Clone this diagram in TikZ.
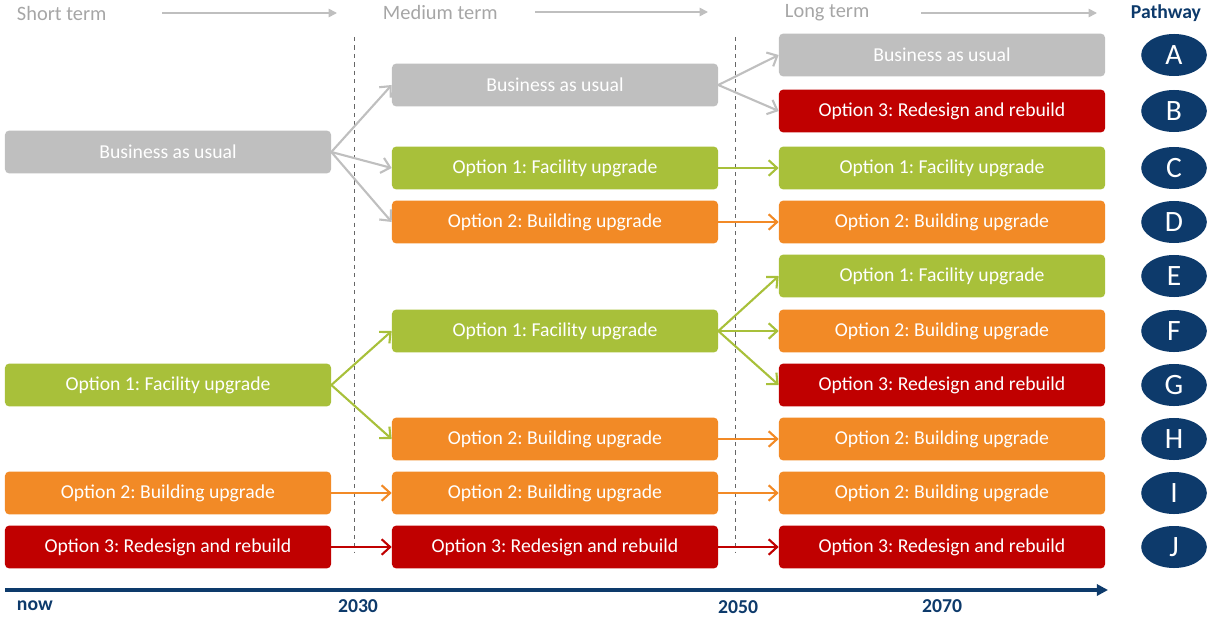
\documentclass[tikz,border=0pt]{standalone}
\usepackage{fontspec}
\setmainfont{Carlito}
\usetikzlibrary{arrows.meta,shapes.geometric,positioning}
\definecolor{baugray}{HTML}{BFBFBF}
\definecolor{optone}{HTML}{A8C03A}
\definecolor{opttwo}{HTML}{F28A26}
\definecolor{optthree}{HTML}{C00000}
\definecolor{navy}{HTML}{0D3A6B}
\definecolor{headgray}{HTML}{A6A6A6}
\frenchspacing

\begin{document}
\begin{tikzpicture}
          [x=0.025cm,y=-0.025cm,
           box/.style={rectangle,rounded corners=3pt,inner sep=0pt,
             minimum width=8.15cm,minimum height=1.07cm,text=white,
             font=\fontsize{14}{16}\selectfont},
           bau/.style={box,fill=baugray},
           one/.style={box,fill=optone},
           two/.style={box,fill=opttwo},
           three/.style={box,fill=optthree},
           path/.style={ellipse,fill=navy,text=white,inner sep=0pt,
             minimum width=1.64cm,minimum height=1.05cm,
             font=\fontsize{21}{23}\selectfont},
           head/.style={anchor=west,text=headgray,font=\fontsize{14.5}{16}\selectfont},
           year/.style={text=navy,font=\fontsize{14}{16}\selectfont\bfseries},
           link/.style={line width=1.5pt,-{Straight Barb[length=6pt,width=11pt]}}]
          \useasboundingbox (0,0) rectangle (1207,617);

          % header
          \node[head] (short) at (12,13) {Short term};
          \node[head] (medium) at (378,12) {Medium term};
          \node[head] (long) at (780,13) {Long term};
          \node[head,text=navy,font=\fontsize{14}{16}\selectfont\bfseries] (pathway) at (1126,13) {Pathway};
          \coordinate (h1s) at (162,13);  \coordinate (h1e) at (337,13);
          \coordinate (h2s) at (535,12);  \coordinate (h2e) at (708,12);
          \coordinate (h3s) at (921,13);  \coordinate (h3e) at (1097,13);
          \foreach \from/\to in {h1s/h1e,h2s/h2e,h3s/h3e}
            \draw[baugray,line width=1.2pt,-{Triangle[length=6pt,width=6pt]}] (\from) -- (\to);

          % time markers
          \coordinate (d1s) at (354,37);  \coordinate (d1e) at (354,553);
          \coordinate (d2s) at (735,37);  \coordinate (d2e) at (735,553);
          \foreach \from/\to in {d1s/d1e,d2s/d2e}
            \draw[black!60,dashed,line width=0.6pt] (\from) -- (\to);

          % short term
          \node[bau]   (c1bau) at (168,152) {Business as usual};
          \node[one]   (c1o1)  at (168,385) {Option 1: Facility upgrade};
          \node[two]   (c1o2)  at (168,493) {Option 2: Building upgrade};
          \node[three] (c1o3)  at (168,547) {Option 3: Redesign and rebuild};

          % medium term
          \node[bau]   (c2bau) at (555,85)  {Business as usual};
          \node[one]   (c2o1a) at (555,168) {Option 1: Facility upgrade};
          \node[two]   (c2o2a) at (555,222) {Option 2: Building upgrade};
          \node[one]   (c2o1b) at (555,331) {Option 1: Facility upgrade};
          \node[two]   (c2o2b) at (555,439) {Option 2: Building upgrade};
          \node[two]   (c2o2c) at (555,493) {Option 2: Building upgrade};
          \node[three] (c2o3)  at (555,547) {Option 3: Redesign and rebuild};

          % long term
          \node[bau]   (c3a) at (942,55)  {Business as usual};
          \node[three] (c3b) at (942,111) {Option 3: Redesign and rebuild};
          \node[one]   (c3c) at (942,168) {Option 1: Facility upgrade};
          \node[two]   (c3d) at (942,222) {Option 2: Building upgrade};
          \node[one]   (c3e) at (942,276) {Option 1: Facility upgrade};
          \node[two]   (c3f) at (942,331) {Option 2: Building upgrade};
          \node[three] (c3g) at (942,385) {Option 3: Redesign and rebuild};
          \node[two]   (c3h) at (942,439) {Option 2: Building upgrade};
          \node[two]   (c3i) at (942,493) {Option 2: Building upgrade};
          \node[three] (c3j) at (942,547) {Option 3: Redesign and rebuild};

          % pathways
          \foreach \l/\y in {A/55,B/111,C/168,D/222,E/276,F/331,G/385,H/439,I/493,J/547}
            \node[path] (p\l) at (1174,\y) {\l};

          % connectors
          \foreach \from/\to/\col in {c1bau/c2bau/baugray,c1bau/c2o1a/baugray,c1bau/c2o2a/baugray,
              c2bau/c3a/baugray,c2bau/c3b/baugray,c2o1a/c3c/optone,c2o2a/c3d/opttwo,
              c1o1/c2o1b/optone,c1o1/c2o2b/optone,c2o1b/c3e/optone,c2o1b/c3f/optone,
              c2o1b/c3g/optone,c2o2b/c3h/opttwo,c1o2/c2o2c/opttwo,c2o2c/c3i/opttwo,
              c1o3/c2o3/optthree,c2o3/c3j/optthree}
            \draw[link,\col] (\from.east) -- (\to.west);

          % time axis
          \coordinate (ax0) at (5,590);
          \coordinate (ax1) at (1108,590);
          \draw[navy,line width=2.2pt,-{Triangle[length=8pt,width=8pt]}] (ax0) -- (ax1);
          \node[year,anchor=west] (now) at (12,606) {now};
          \node[year] (y2030) at (358,606) {2030};
          \node[year] (y2050) at (738,607) {2050};
          \node[year] (y2070) at (942,606) {2070};
        \end{tikzpicture}
\end{document}
